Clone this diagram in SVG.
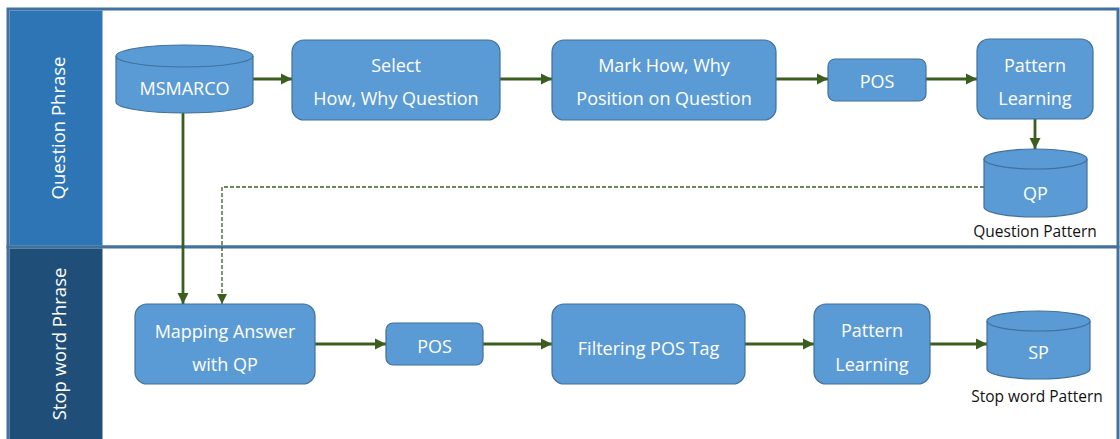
<svg xmlns="http://www.w3.org/2000/svg" width="1120" height="439" viewBox="0 0 1120 439">
<defs>
<style>
.box{fill:#5B9BD5;stroke:#41719C;stroke-width:1.2}
.t{font-family:"Open Sans","Noto Sans",sans-serif;font-size:18px;fill:#fff;text-anchor:middle}
.cap{font-family:"Open Sans","Noto Sans",sans-serif;font-size:15.5px;fill:#111;text-anchor:middle}
.side{font-family:"Open Sans","Noto Sans",sans-serif;font-size:18.5px;fill:#fff;text-anchor:middle}
.c{fill:none;stroke:#3B5E1F;stroke-width:2.8}
.d{fill:none;stroke:#3B5E1F;stroke-width:1.3;stroke-dasharray:4 2}
</style>
<marker id="ah" viewBox="0 0 10 10" refX="10" refY="5" markerWidth="4" markerHeight="4" orient="auto" markerUnits="strokeWidth"><path d="M0,0 L10,5 L0,10 z" fill="#3B5E1F"/></marker>
<marker id="ahd" viewBox="0 0 10 10" refX="10" refY="5" markerWidth="8" markerHeight="8" orient="auto" markerUnits="strokeWidth"><path d="M0,0 L10,5 L0,10 z" fill="#3B5E1F"/></marker>
</defs>
<rect width="1120" height="439" fill="#fff"/>
<g id="lanes">
<rect x="8" y="9" width="1110" height="238" fill="#fff" stroke="#41719C" stroke-width="3"/>
<rect x="8" y="247" width="1110" height="196" fill="#fff" stroke="#41719C" stroke-width="3"/>
<rect x="9.5" y="10.5" width="93" height="235" fill="#2E75B6"/>
<rect x="9.5" y="248.5" width="93" height="192" fill="#1F4E79"/>
<text class="side" transform="translate(65,128) rotate(-90)">Question Phrase</text>
<text class="side" transform="translate(66,344) rotate(-90)">Stop word Phrase</text>
</g>
<g id="connectors">
<line class="c" x1="253" y1="79" x2="292" y2="79" marker-end="url(#ah)"/>
<line class="c" x1="500" y1="79" x2="552" y2="79" marker-end="url(#ah)"/>
<line class="c" x1="776" y1="79" x2="828" y2="79" marker-end="url(#ah)"/>
<line class="c" x1="926" y1="79" x2="977" y2="79" marker-end="url(#ah)"/>
<line class="c" x1="1035" y1="119" x2="1035" y2="149" marker-end="url(#ah)"/>
<line class="c" x1="183" y1="113" x2="183" y2="304" marker-end="url(#ah)"/>
<polyline class="d" points="984,187 222,187 222,304" marker-end="url(#ahd)"/>
<line class="c" x1="315" y1="344" x2="386" y2="344" marker-end="url(#ah)"/>
<line class="c" x1="483" y1="344" x2="552" y2="344" marker-end="url(#ah)"/>
<line class="c" x1="745" y1="344" x2="814" y2="344" marker-end="url(#ah)"/>
<line class="c" x1="930" y1="344" x2="987" y2="344" marker-end="url(#ah)"/>
</g>
<g id="msmarco">
<path class="box" d="M116,56 L116,102 A68.5,11 0 0 0 253,102 L253,56 A68.5,11 0 0 0 116,56 z"/>
<path class="box" d="M116,56 A68.5,11 0 0 0 253,56"/>
<text class="t" x="184.5" y="94.5">MSMARCO</text>
</g>
<g id="select">
<rect class="box" x="292" y="40" width="208" height="80" rx="12"/>
<text class="t" x="396" y="72">Select</text>
<text class="t" x="396" y="105">How, Why Question</text>
</g>
<g id="mark">
<rect class="box" x="552" y="40" width="224" height="80" rx="12"/>
<text class="t" x="664" y="72">Mark How, Why</text>
<text class="t" x="664" y="105">Position on Question</text>
</g>
<g id="pos1">
<rect class="box" x="828" y="59" width="98" height="42" rx="7"/>
<text class="t" x="877" y="88">POS</text>
</g>
<g id="pl1">
<rect class="box" x="977" y="39" width="116" height="80" rx="12"/>
<text class="t" x="1035" y="72">Pattern</text>
<text class="t" x="1035" y="105">Learning</text>
</g>
<g id="qp">
<path class="box" d="M984,159 L984,207 A51.5,10 0 0 0 1087,207 L1087,159 A51.5,10 0 0 0 984,159 z"/>
<path class="box" d="M984,159 A51.5,10 0 0 0 1087,159"/>
<text class="t" x="1035.5" y="199.5">QP</text>
<text class="cap" x="1035" y="236.5">Question Pattern</text>
</g>
<g id="mapping">
<rect class="box" x="135" y="304" width="180" height="80" rx="12"/>
<text class="t" x="225" y="338">Mapping Answer</text>
<text class="t" x="225" y="371">with QP</text>
</g>
<g id="pos2">
<rect class="box" x="386" y="323" width="97" height="42" rx="7"/>
<text class="t" x="434.5" y="353">POS</text>
</g>
<g id="filtering">
<rect class="box" x="552" y="304" width="193" height="80" rx="12"/>
<text class="t" x="648.5" y="355">Filtering POS Tag</text>
</g>
<g id="pl2">
<rect class="box" x="814" y="304" width="116" height="80" rx="12"/>
<text class="t" x="872" y="337">Pattern</text>
<text class="t" x="872" y="371">Learning</text>
</g>
<g id="sp">
<path class="box" d="M987,321 L987,369 A51.5,10 0 0 0 1090,369 L1090,321 A51.5,10 0 0 0 987,321 z"/>
<path class="box" d="M987,321 A51.5,10 0 0 0 1090,321"/>
<text class="t" x="1038.5" y="359">SP</text>
<text class="cap" x="1037" y="401.5">Stop word Pattern</text>
</g>
</svg>
